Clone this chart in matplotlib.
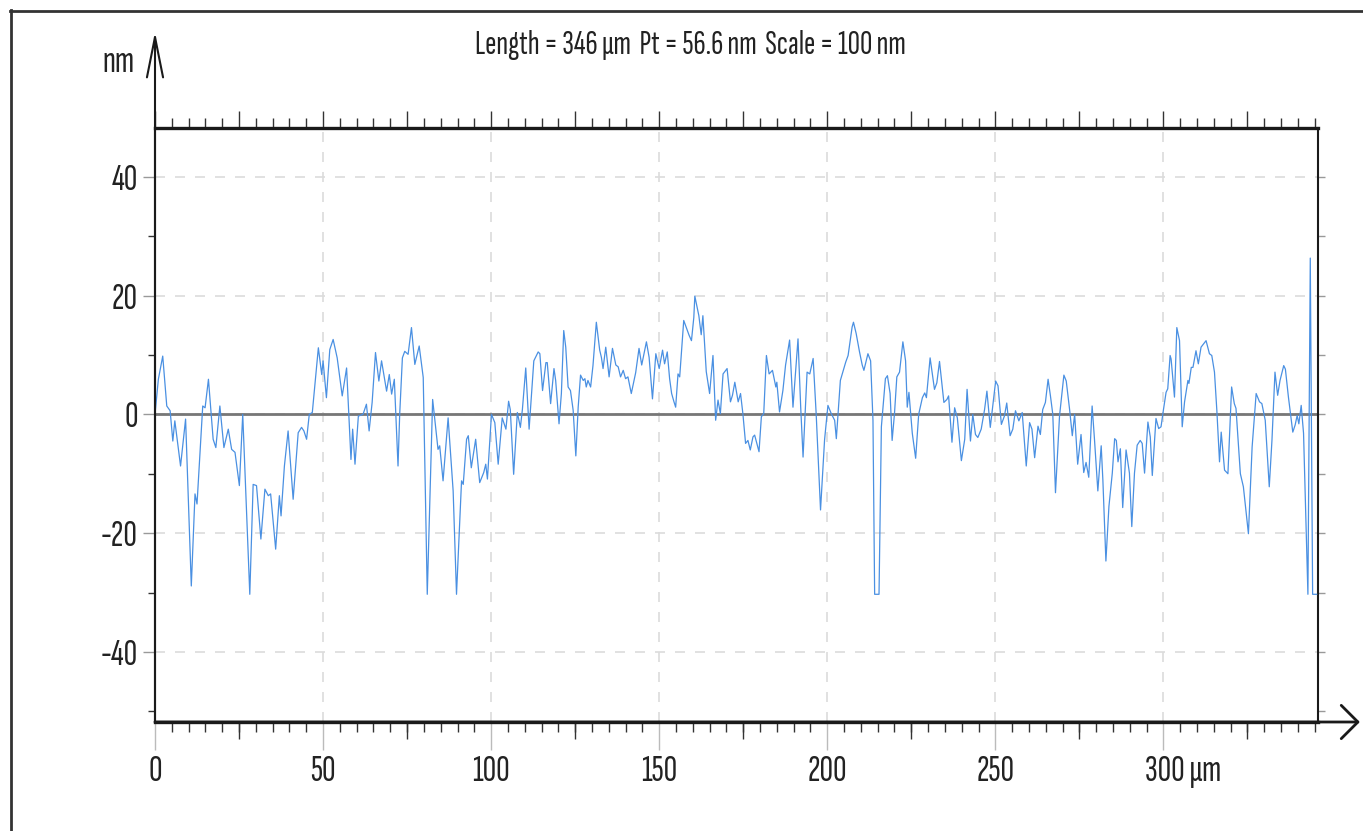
import numpy as np
import matplotlib
matplotlib.use("Agg")
import matplotlib.pyplot as plt
from matplotlib.ticker import MultipleLocator, FixedLocator
from matplotlib.lines import Line2D
import matplotlib.transforms as mtransforms

plt.rcParams['font.family'] = ['Sofia Sans Extra Condensed', 'Liberation Sans', 'DejaVu Sans']

# profile: position [um], height [nm]
x_um = [0, 1.0, 2.3, 3.5, 4.5, 5.3, 5.9, 7.6, 9.1, 10.8, 11.9, 12.5, 14.2, 14.9, 15.9, 17.3, 18.1, 19.3,
        20.5, 21.8, 22.8, 23.8, 25.1, 26.1, 28.2, 29.2, 30.2, 31.5, 32.7, 33.7, 34.4, 35.9, 37.0, 37.5,
        38.5, 39.6, 41.1, 42.6, 43.6, 44.3, 45.1, 45.9, 46.8, 48.6, 49.6, 50.0, 51.0, 52.0, 53.0, 54.2,
        55.7, 57.0, 58.3, 58.8, 59.5, 60.5, 61.9, 62.9, 63.7, 64.6, 65.6, 66.6, 67.4, 68.9, 69.7, 70.4,
        71.2, 72.3, 72.8, 73.6, 74.3, 75.3, 76.3, 77.3, 78.6, 79.8, 81.0, 82.6, 84.2, 84.7, 85.7, 87.2,
        88.7, 89.7, 91.2, 91.7, 92.7, 93.2, 94.1, 95.4, 96.6, 97.8, 98.4, 98.9, 100.1, 101.1, 102.1,
        103.3, 104.4, 105.2, 105.7, 106.7, 107.8, 108.7, 109.3, 110.3, 111.3, 112.7, 114.0, 114.5,
        115.3, 116.3, 116.7, 117.7, 118.7, 119.2, 120.2, 120.9, 121.6, 122.2, 122.9, 123.6, 124.4,
        125.2, 125.9, 126.6, 127.4, 127.9, 128.3, 128.8, 129.6, 130.3, 131.3, 132.3, 132.8, 133.3,
        134.1, 135.1, 136.1, 137.1, 137.8, 138.5, 139.3, 140.0, 140.7, 141.7, 143.0, 144.0, 144.8,
        146.2, 147.0, 148.0, 149.0, 150.0, 151.0, 151.6, 152.4, 153.1, 153.7, 154.4, 154.9, 155.6,
        156.1, 157.3, 158.9, 159.6, 160.3, 160.6, 161.8, 162.5, 163.0, 164.0, 165.0, 166.0, 166.8,
        167.5, 168.2, 169.0, 170.2, 171.2, 171.8, 172.5, 173.5, 174.2, 174.9, 175.7, 176.4, 177.1,
        177.9, 178.4, 179.7, 180.4, 181.1, 181.9, 182.7, 183.7, 184.7, 185.0, 185.8, 186.8, 187.6,
        188.8, 189.8, 191.3, 192.1, 192.8, 194.0, 194.8, 195.8, 196.7, 198.0, 199.2, 200.2, 201.2,
        202.2, 202.7, 203.9, 205.5, 206.2, 207.4, 207.8, 208.6, 209.6, 210.4, 210.9, 212.1, 212.9,
        213.6, 214.1, 215.4, 216.1, 216.6, 217.3, 217.9, 218.7, 219.3, 220.0, 220.7, 221.5, 222.5,
        223.3, 223.8, 224.3, 225.3, 226.3, 227.2, 228.3, 229.0, 229.5, 230.6, 231.9, 232.6, 233.4,
        234.7, 235.6, 236.1, 237.1, 237.9, 238.7, 239.9, 240.9, 241.6, 242.6, 243.3, 244.1, 244.8,
        245.8, 246.8, 247.5, 248.5, 250.1, 250.8, 251.8, 252.7, 253.4, 254.4, 255.2, 256.0, 257.0,
        258.0, 259.2, 260.2, 260.9, 261.7, 262.7, 263.4, 264.1, 264.9, 265.7, 266.4, 267.1, 267.9,
        269.1, 270.4, 271.1, 272.1, 272.9, 273.6, 274.5, 275.5, 276.3, 277.0, 277.8, 278.8, 279.5,
        280.5, 281.5, 282.0, 282.9, 283.8, 284.8, 285.5, 286.0, 286.5, 287.2, 287.9, 288.9, 289.9,
        290.6, 291.4, 292.2, 293.1, 293.7, 294.4, 295.4, 296.1, 296.7, 297.8, 298.6, 299.3, 300.0,
        300.8, 301.3, 302.0, 302.3, 303.3, 304.0, 304.8, 305.6, 306.3, 307.3, 307.6, 308.3, 308.8,
        309.7, 310.4, 311.2, 311.9, 312.7, 313.7, 314.4, 315.2, 315.9, 316.7, 317.2, 318.2, 319.2,
        320.3, 321.1, 321.6, 322.9, 323.8, 325.3, 326.4, 327.6, 328.6, 329.3, 330.3, 331.5, 332.3,
        333.2, 334.0, 334.7, 335.8, 336.3, 337.2, 338.5, 339.2, 339.8, 340.3, 341.0, 341.7, 343.0,
        343.7, 344.4, 345.6]
z_nm = [0, 5.9, 9.8, 1.4, 0.6, -4.5, -1.1, -8.7, -0.8, -28.9, -13.4, -15.1, 1.4, 1.1, 5.9, -4.2, -5.6, 1.4,
        -5.6, -2.5, -5.9, -6.4, -12.0, 0, -30.3, -11.8, -12.0, -21.0, -12.6, -13.7, -13.4, -22.7, -13.7, -17.1,
        -8.7, -2.8, -14.3, -3.1, -2.2, -2.8, -4.2, 0, 0.3, 11.2, 6.7, 9.0, 2.8, 10.9, 12.6, 9.5,
        3.1, 7.8, -7.6, -2.5, -8.4, -0.3, 0, 1.7, -2.8, 2.0, 10.4, 5.6, 9.0, 3.9, 6.7, 3.4,
        5.9, -8.7, 0, 9.5, 10.6, 10.1, 14.6, 8.4, 11.5, 6.2, -30.3, 2.5, -5.9, -5.3, -11.2, -0.6,
        -12.9, -30.3, -11.2, -11.8, -4.2, -3.6, -9.0, -4.2, -11.5, -9.8, -8.4, -10.9, 0, -1.4, -8.4,
        -0.6, -2.5, 2.2, 0.8, -10.1, 0.3, -2.2, 0.8, 7.8, -2.5, 9.0, 10.5, 10.2,
        4.0, 8.7, 8.7, 1.8, 7.7, 5.7, -1.6, 3.5, 14.1, 11.3, 4.6, 4.0, 0.7,
        -7.0, 1.2, 6.6, 5.7, 6.0, 4.6, 5.7, 4.6, 8.2, 15.5, 10.8, 9.6, 7.7,
        11.3, 6.3, 11.1, 8.3, 8.0, 6.3, 7.4, 6.0, 6.3, 3.5, 7.0, 11.1, 8.3,
        12.2, 9.6, 2.6, 10.2, 7.7, 10.8, 8.5, 10.5, 6.0, 3.5, 2.1, 1.2, 6.8,
        6.3, 15.8, 13.3, 12.4, 16.3, 19.9, 16.6, 13.4, 16.6, 7.2, 3.5, 9.9, -1.0,
        2.4, 0.1, 6.8, 7.7, 2.1, 3.2, 5.4, 2.1, 3.5, 0.1, -4.9, -4.4, -6.0,
        -3.8, -3.5, -6.3, -0.4, 0.1, 9.9, 6.8, 7.4, 4.6, 5.4, 0.4, 4.0, 8.3,
        12.5, 1.2, 12.7, 1.2, -7.2, 7.1, 6.8, 9.4, 0.1, -16.1, -4.3, 1.5, 0.1,
        -1.0, -4.1, 5.7, 8.8, 9.9, 14.7, 15.5, 13.6, 10.5, 8.3, 7.4, 10.2, 9.0,
        -1.0, -30.3, -30.3, -2.1, 1.2, 6.0, 6.5, 3.5, -4.4, 0.1, 6.3, 7.1, 12.2,
        9.0, 1.2, 3.7, -3.2, -7.4, 0, 2.8, 3.6, 2.8, 9.5, 4.2, 5.3, 8.9,
        2.0, 2.5, 3.1, -4.7, 1.1, -0.6, -7.8, -4.2, 4.2, -4.5, 0, -3.4, -3.9,
        -2.5, 0.8, 3.9, -2.2, 5.6, 4.8, -1.7, -0.3, 1.9, -3.6, -2.5, 0.6, -1.1,
        0.3, -8.7, -1.4, -2.5, -7.3, -2.0, -3.4, 0.8, 2.0, 5.9, 3.1, 0, -13.2,
        -0.3, 6.6, 5.6, 0.8, -3.6, 0, -8.4, -3.4, -9.8, -8.1, -10.6, 1.4, -4.2,
        -12.9, -5.3, -11.1, -24.7, -15.5, -9.9, -4.1, -4.4, -8.0, -5.8, -15.7, -6.0, -9.9,
        -18.9, -9.9, -5.2, -4.4, -4.9, -9.9, -1.3, -3.8, -10.3, -0.7, -2.4, -2.1, 0.7,
        3.7, 4.3, 9.9, 9.3, 2.9, 14.6, 12.4, -2.1, 2.1, 5.7, 5.2, 7.9, 7.9,
        10.7, 8.5, 11.3, 11.8, 12.4, 10.2, 9.9, 7.1, 0.7, -8.0, -3.0, -9.4, -10.0,
        4.6, 1.8, 1.0, -10.0, -12.2, -20.1, -5.5, 3.5, 2.1, 1.8, -1.0, -12.2, -4.4,
        7.1, 3.2, 5.7, 8.2, 7.6, 2.9, -3.0, -1.8, -0.2, -1.6, 1.5, -3.2, -30.3,
        26.3, -30.3, -30.3]

x_ticks = [0, 50, 100, 150, 200, 250, 300]
x_labels = ['0', '50', '100', '150', '200', '250', '300 µm']
y_ticks = [-40, -20, 0, 20, 40]
y_labels = ['-40', '-20', '0', '20', '40']
title = 'Length = 346 µm  Pt = 56.6 nm  Scale = 100 nm'

fig = plt.figure(figsize=(13.63, 8.31), dpi=100)
ax = fig.add_axes([155/1363, 109/831, 1163/1363, 594/831])

ax.plot(x_um, z_nm, color='#4a90e2', lw=0.9, zorder=3)
ax.axhline(0, color='#777777', lw=2, zorder=2)

ax.set_xlim(0, 346)
ax.set_ylim(-51.8, 48.2)

# grid
ax.set_xticks(x_ticks)
ax.set_xticklabels(x_labels)
ax.set_yticks(y_ticks)
ax.set_yticklabels(y_labels)
ax.grid(True, color='#dcdcdc', ls=(0, (6, 6)), lw=1.2)

ax.xaxis.set_minor_locator(MultipleLocator(5))
ax.yaxis.set_minor_locator(FixedLocator([-50, -30, -10, 10, 30]))
ax.tick_params(axis='x', which='major', length=20, width=1, color='#bbbbbb',
               labelsize=27, pad=4, labelcolor='#222222')
ax.tick_params(axis='x', which='minor', length=7, width=1, color='#333333')
ax.tick_params(axis='y', which='major', length=8.6, width=1, color='#999999',
               labelsize=27, pad=4, labelcolor='#222222')
ax.tick_params(axis='y', which='minor', length=5, width=1, color='#333333')

# shift "300 µm" so the number sits on its tick
lbl = ax.get_xticklabels()[-1]
lbl.set_horizontalalignment('left')
lbl.set_transform(lbl.get_transform() + mtransforms.ScaledTranslation(-18/100, 0, fig.dpi_scale_trans))

sec_b = ax.secondary_xaxis('bottom')
sec_b.set_xticks([25, 75, 125, 175, 225, 275, 325])
sec_b.tick_params(length=12, width=1, color='#333333', labelbottom=False)
sec_b.spines['bottom'].set_visible(False)

sec_t = ax.secondary_xaxis('top')
sec_t.xaxis.set_major_locator(MultipleLocator(25))
sec_t.xaxis.set_minor_locator(MultipleLocator(5))
sec_t.tick_params(which='major', length=12, width=1, color='#333333', labeltop=False)
sec_t.tick_params(which='minor', length=7, width=1, color='#333333')
sec_t.spines['top'].set_visible(False)

sec_r = ax.secondary_yaxis('right')
sec_r.yaxis.set_major_locator(MultipleLocator(10))
sec_r.tick_params(length=5, width=1, color='#999999', labelright=False)
sec_r.spines['right'].set_visible(False)

ax.spines['top'].set_linewidth(2.4)
ax.spines['bottom'].set_linewidth(2.4)
ax.spines['left'].set_linewidth(1.5)
ax.spines['right'].set_linewidth(1.5)
for s in ax.spines.values():
    s.set_color('#1a1a1a')

# axis arrows
ax.annotate('', xy=(0, 1.162), xytext=(0, 0), xycoords='axes fraction',
            arrowprops=dict(arrowstyle='->, head_length=1.45, head_width=0.29',
                            lw=1.5, color='#1a1a1a', mutation_scale=20, shrinkA=0, shrinkB=0))
ax.annotate('', xy=(1.036, 0), xytext=(0, 0), xycoords='axes fraction',
            arrowprops=dict(arrowstyle='->, head_length=0.6, head_width=0.6',
                            lw=2, color='#1a1a1a', mutation_scale=20, shrinkA=0, shrinkB=0))

ax.text(-0.017, 1.111, 'nm', transform=ax.transAxes, ha='right', va='center', fontsize=27,
        color='#222222')
fig.text(690/1363, 1 - 45/831, title, ha='center', va='center', fontsize=24.5, color='#222222')

# outer frame (left and top edges only)
fig.add_artist(Line2D([10.5/1363, 10.5/1363], [0, 1 - 10/831], transform=fig.transFigure,
                      color='#333333', lw=2))
fig.add_artist(Line2D([10/1363, 1], [1 - 11/831, 1 - 11/831], transform=fig.transFigure,
                      color='#333333', lw=2))

fig.savefig('out.png', dpi=100)
